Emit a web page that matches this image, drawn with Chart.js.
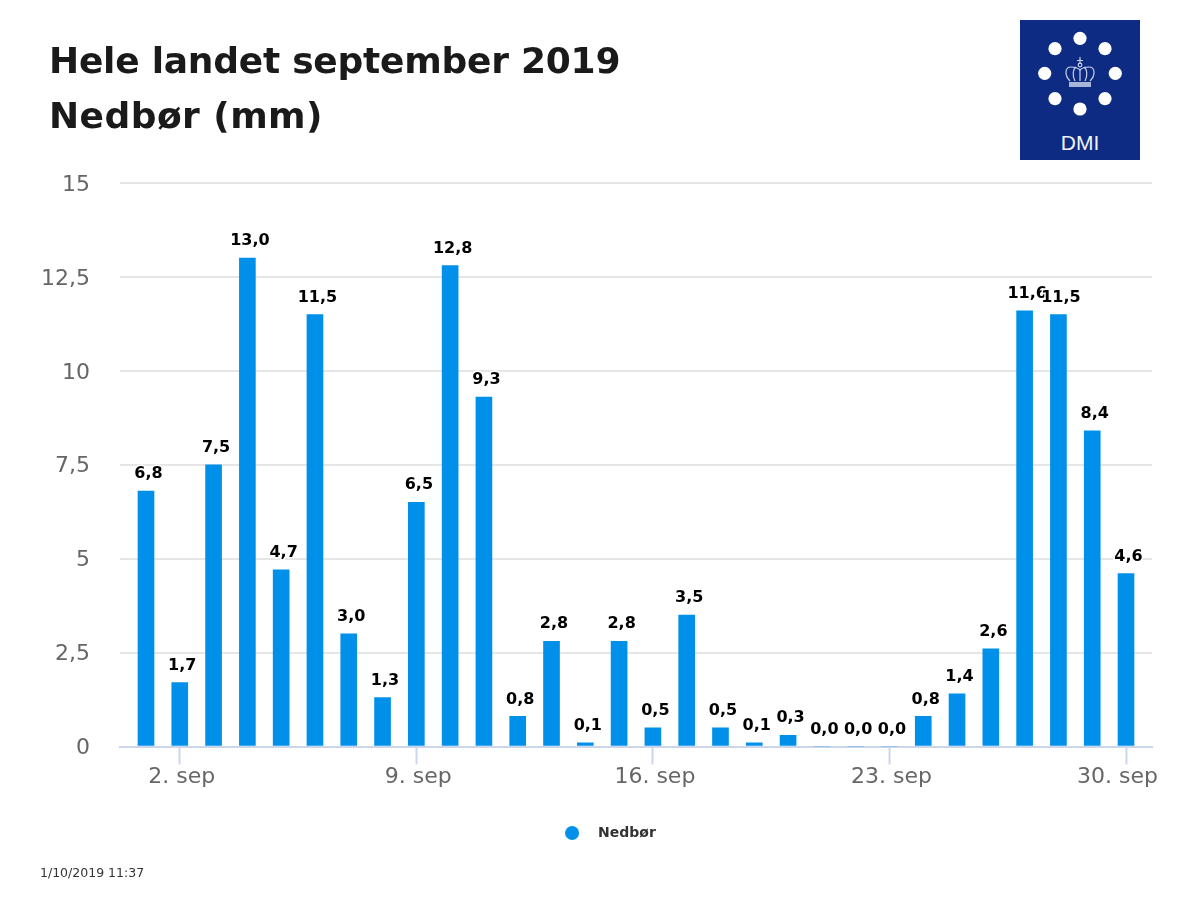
<!DOCTYPE html>
<html lang="da">
<head>
<meta charset="utf-8">
<title>Nedbør september 2019</title>
<script src="https://cdn.jsdelivr.net/npm/chart.js@4/dist/chart.umd.min.js"></script>
<style>
    body { margin: 0; background: #fff; font-family: "DejaVu Sans", sans-serif; }
    #wrap { position: relative; width: 1200px; height: 900px; overflow: hidden; }
    #grafica { position: absolute; left: 0; top: 0; }
    #titulo { position: absolute; left: 49px; top: 33px; margin: 0; font-size: 36px; font-weight: bold; line-height: 55px; color: #1a1a1a; }
    #titulo .l1 { letter-spacing: -0.24px; }
    #titulo .l2 { letter-spacing: 0.45px; }
    #fecha { position: absolute; left: 40px; top: 866px; font-size: 12.5px; line-height: 14px; color: #333; }
    #logo { position: absolute; left: 1020px; top: 20px; }
</style>
</head>
<body>
<div id="wrap">
    <canvas id="grafica" width="1200" height="900"></canvas>
    <h1 id="titulo"><span class="l1">Hele landet september 2019</span><br><span class="l2">Nedbør (mm)</span></h1>
    <div id="fecha">1/10/2019 11:37</div>
    <svg id="logo" width="120" height="140" viewBox="0 0 120 140">
        <rect width="120" height="140" fill="#0d2b82"/>
        <g fill="#fff">
            <circle cx="60" cy="18.3" r="6.6"/><circle cx="85" cy="28.7" r="6.6"/>
            <circle cx="95.3" cy="53.3" r="6.6"/><circle cx="85" cy="78.6" r="6.6"/>
            <circle cx="60" cy="89" r="6.6"/><circle cx="35" cy="78.6" r="6.6"/>
            <circle cx="24.7" cy="53.3" r="6.6"/><circle cx="35" cy="28.7" r="6.6"/>
        </g>
        <g fill="none" stroke="#c9d1e8" stroke-width="1.2">
            <path d="M60 37v7M57 40.5h6"/>
            <circle cx="60" cy="45" r="1.8"/>
            <path d="M50 61C44 55 45 47 51 47C57 47 60 50 60 50C60 50 63 47 69 47C75 47 76 55 70 61"/>
            <path d="M55 61C52 55 53 49 56 47M65 61C68 55 67 49 64 47M60 50V61"/>
        </g>
        <rect x="49" y="62" width="22" height="5" fill="#a9b4d8"/>
        <text x="60" y="129.5" text-anchor="middle" font-family="Liberation Sans" font-size="21" fill="#f0f2f9">DMI</text>
    </svg>
</div>
<script>
const dias = [1, 2, 3, 4, 5, 6, 7, 8, 9, 10, 11, 12, 13, 14, 15, 16, 17, 18, 19, 20, 21, 22, 23, 24, 25, 26, 27, 28, 29, 30];
const nedbor = [6.8, 1.7, 7.5, 13.0, 4.7, 11.5, 3.0, 1.3, 6.5, 12.8, 9.3, 0.8, 2.8, 0.1, 2.8, 0.5, 3.5, 0.5, 0.1, 0.3, 0.0, 0.0, 0.0, 0.8, 1.4, 2.6, 11.6, 11.5, 8.4, 4.6];
const diasMarcados = [2, 9, 16, 23, 30];
const etiquetasDias = ["2. sep", "9. sep", "16. sep", "23. sep", "30. sep"];
const nombreSerie = "Nedbør";

const ctx = document.getElementById("grafica");

// Punto de la leyenda: un canvas evita que pointStyleWidth lo deforme
const puntoLeyenda = document.createElement("canvas");
puntoLeyenda.width = 14;
puntoLeyenda.height = 14;
const ctxPunto = puntoLeyenda.getContext("2d");
ctxPunto.fillStyle = "#0090ea";
ctxPunto.arc(7, 7, 7, 0, Math.PI * 2);
ctxPunto.fill();

// Valores encima de cada barra, con halo blanco como en el original
const etiquetasBarras = {
    id: "etiquetasBarras",
    afterLayout(chart) {
        // la leyenda no va centrada en el lienzo sino un poco a la derecha
        chart.legend.left = 57;
    },
    afterDatasetsDraw(chart) {
        const c = chart.ctx;
        c.save();
        c.font = "bold 16px 'DejaVu Sans'";
        c.textAlign = "center";
        c.textBaseline = "middle";
        c.lineJoin = "round";
        chart.getDatasetMeta(0).data.forEach((barra, i) => {
            const texto = nedbor[i].toFixed(1).replace(".", ",");
            c.strokeStyle = "#fff";
            c.lineWidth = 3;
            c.strokeText(texto, barra.x + 2.5, barra.y - 17);
            c.fillStyle = "#000";
            c.fillText(texto, barra.x + 2.5, barra.y - 17);
        });
        c.restore();
    }
};

new Chart(ctx, {
    type: "bar",
    data: {
        datasets: [{
            label: nombreSerie,
            data: dias.map((d, i) => ({ x: d, y: nedbor[i] })),
            backgroundColor: "#0090ea",
            barThickness: 16
        }]
    },
    plugins: [etiquetasBarras],
    options: {
        responsive: false,
        animation: false,
        layout: { padding: { left: 38, right: 48, top: 183, bottom: 50 } },
        plugins: {
            tooltip: { enabled: false },
            legend: {
                position: "bottom",
                labels: {
                    usePointStyle: true,
                    pointStyle: puntoLeyenda,
                    pointStyleWidth: 38,
                    boxHeight: 10,
                    padding: 0,
                    color: "#333",
                    font: { family: "DejaVu Sans", size: 14, weight: "bold" }
                }
            }
        },
        scales: {
            x: {
                type: "linear",
                offset: false,
                min: 0.231,
                max: 30.769,
                afterBuildTicks(scale) {
                    scale.ticks = diasMarcados.map(d => ({ value: d }));
                },
                afterFit(scale) { scale.height = 79.5; },
                grid: { offset: false, drawOnChartArea: false, tickLength: 18, tickColor: "#ccd6eb", tickWidth: 2 },
                border: { color: "#ccd6eb", width: 2 },
                ticks: {
                    autoSkip: false,
                    maxRotation: 0,
                    padding: 0,
                    labelOffset: 2,
                    color: "#666",
                    font: { family: "DejaVu Sans", size: 22 },
                    // la última etiqueta queda corrida a la izquierda, con espacios al final
                    callback: (valor, i) => etiquetasDias[i] + (i === etiquetasDias.length - 1 ? "   " : "")
                }
            },
            y: {
                min: 0,
                max: 15,
                afterFit(scale) { scale.width = 82; },
                grid: { color: "#e6e6e6", lineWidth: 2, drawTicks: false },
                border: { display: false },
                ticks: {
                    stepSize: 2.5,
                    padding: 30,
                    labelOffset: 2,
                    color: "#666",
                    font: { family: "DejaVu Sans", size: 22 },
                    callback: valor => String(valor).replace(".", ",")
                }
            }
        }
    }
});
</script>
</body>
</html>
